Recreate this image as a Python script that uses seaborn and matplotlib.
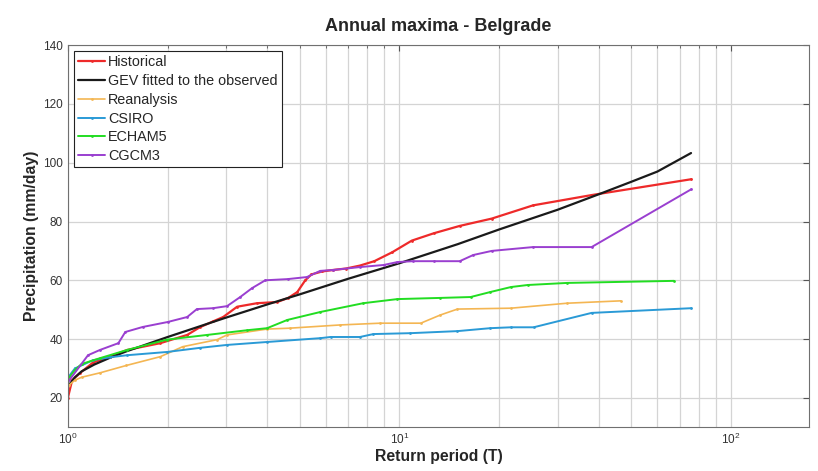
import matplotlib
matplotlib.use("Agg")
import matplotlib.pyplot as plt
import matplotlib.ticker as mticker
import seaborn as sns
import pandas as pd

# Return periods (T) and annual maximum precipitation (mm/day)
hist_T = [1.0, 1.03, 1.09, 1.19, 1.34, 1.51, 1.9, 2.29, 2.5, 2.74, 2.94, 3.24, 3.72, 4.28, 4.62,
          4.92, 5.2, 5.43, 5.85, 6.3, 6.9, 7.6, 8.4, 9.5, 10.9, 12.7, 15.2, 19.0, 25.3, 38.0, 76.0]
hist_P = [20, 26, 28.5, 32, 34, 36.3, 38.6, 41.4, 44, 46, 47.5, 51, 52.2, 52.6, 54,
          56, 60, 62, 63, 63.5, 64, 65, 66.5, 69.5, 73.5, 76, 78.5, 81, 85.5, 89, 94.4]

gev_T = [1.01, 1.05, 1.1, 1.2, 1.35, 1.5, 2, 3, 4, 5, 7, 10, 15, 20, 30, 40, 50, 60, 75.8]
gev_P = [24.5, 27, 29, 31.3, 33.8, 35.8, 40.7, 47.3, 51.8, 55.2, 60.5, 65.8, 72.3, 77.3, 84, 89.3, 93.5, 97, 103.3]

rean_T = [1.01, 1.05, 1.1, 1.25, 1.5, 1.9, 2.22, 2.82, 3.02, 3.99, 4.67, 6.63, 8.76, 11.6, 13.3,
          14.97, 21.7, 32.1, 46.5]
rean_P = [24.4, 26, 27, 28.5, 31, 34, 37.4, 39.8, 41.4, 43.4, 43.7, 44.8, 45.4, 45.4, 48.2,
          50.2, 50.5, 52.2, 53]

csiro_T = [1.01, 1.05, 1.19, 1.34, 1.51, 1.99, 2.5, 3.02, 3.99, 5.77, 6.2, 7.6, 8.35, 10.8,
           14.97, 18.8, 21.7, 25.4, 38.0, 76.0]
csiro_P = [27.5, 30, 32.8, 33.8, 34.5, 35.6, 37, 38, 39, 40.3, 40.7, 40.7, 41.7, 42,
           42.7, 43.7, 44, 44, 48.9, 50.5]

echam_T = [1.01, 1.05, 1.1, 1.25, 1.51, 1.99, 2.63, 3.47, 3.99, 4.59, 5.77, 7.78, 9.86, 13.3,
           16.4, 18.8, 21.7, 24.4, 32.1, 67.3]
echam_P = [27, 29.5, 31.5, 33.5, 36.3, 39.8, 41.4, 43, 43.7, 46.5, 49.2, 52.2, 53.6, 54,
           54.3, 56, 57.7, 58.4, 59.1, 59.8]

cgcm_T = [1.01, 1.15, 1.25, 1.42, 1.49, 1.68, 2.0, 2.29, 2.45, 2.74, 3.02, 3.31, 3.59, 3.94, 4.6,
          5.26, 5.77, 6.3, 7.6, 8.96, 9.86, 11.0, 12.7, 15.2, 16.7, 19.0, 25.3, 38.0, 76.0]
cgcm_P = [26, 34.5, 36.3, 38.6, 42.4, 44.1, 45.8, 47.5, 50.2, 50.5, 51.2, 54.3, 57.3, 60, 60.4,
          61.1, 63.2, 63.5, 64.5, 65.2, 66.2, 66.5, 66.5, 66.5, 68.6, 70, 71.3, 71.3, 91]

series = [
    ('Historical', hist_T, hist_P, '#ee2a2a', 1.6, True),
    ('GEV fitted to the observed', gev_T, gev_P, '#1a1a1a', 1.6, False),
    ('Reanalysis', rean_T, rean_P, '#f4b653', 1.2, True),
    ('CSIRO', csiro_T, csiro_P, '#2a9ad6', 1.4, True),
    ('ECHAM5', echam_T, echam_P, '#22dd22', 1.4, True),
    ('CGCM3', cgcm_T, cgcm_P, '#9a3fd0', 1.4, True),
]

sns.set_style('white')
plt.rcParams['font.family'] = ['Liberation Sans', 'DejaVu Sans']

fig = plt.figure(figsize=(8.18, 4.71), dpi=100)
ax = fig.add_axes([0.083, 0.093, 0.906, 0.811])

for name, T, P, color, lw, dots in series:
    df = pd.DataFrame({'T': T, 'P': P})
    sns.lineplot(data=df, x='T', y='P', ax=ax, color=color, linewidth=lw, label=name,
                 marker='.' if dots else None, markersize=4, markeredgewidth=0,
                 estimator=None, sort=False)

ax.set_xscale('log')
ax.set_xlim(1, 172)
ax.set_ylim(10, 140)
ax.set_yticks([20, 40, 60, 80, 100, 120, 140])
ax.xaxis.set_major_locator(mticker.LogLocator(base=10))
ax.xaxis.set_minor_locator(mticker.LogLocator(base=10, subs=range(2, 10)))
ax.xaxis.set_minor_formatter(mticker.NullFormatter())

ax.grid(True, which='major', axis='both', color='#d4d4d4', linewidth=0.9)
ax.grid(True, which='minor', axis='x', color='#d4d4d4', linewidth=0.9)
ax.tick_params(which='both', direction='in', top=True, right=True, color='#555555',
               labelsize=8.5, labelcolor='#333333')
ax.tick_params(which='major', length=4)
ax.tick_params(which='minor', length=2)
for sp in ax.spines.values():
    sp.set_color('#707070')
    sp.set_linewidth(0.8)

ax.set_title('Annual maxima - Belgrade', fontsize=13, fontweight='bold', pad=10)
ax.set_xlabel('Return period (T)', fontsize=11.3, fontweight='bold', labelpad=1)
ax.set_ylabel('Precipitation (mm/day)', fontsize=11.3, fontweight='bold', labelpad=3)

leg = ax.legend(loc='upper left', fontsize=10.4, frameon=True, fancybox=False,
                edgecolor='#222222', framealpha=1, borderaxespad=0.4,
                handlelength=1.9, handletextpad=0.2, labelspacing=0.33, borderpad=0.3)
leg.get_frame().set_linewidth(0.8)

fig.savefig('out.png', dpi=100)
